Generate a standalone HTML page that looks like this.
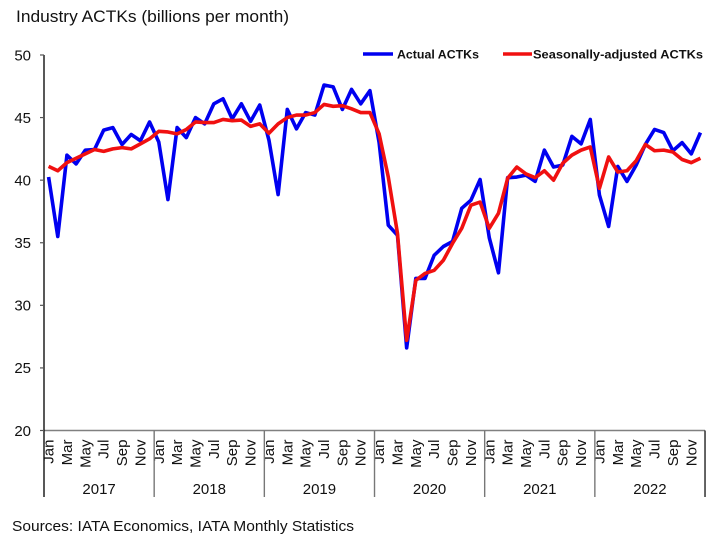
<!DOCTYPE html>
<html>
<head>
<meta charset="utf-8">
<style>
html,body{margin:0;padding:0;background:#fff;}
svg{display:block;font-family:"Liberation Sans",Arial,sans-serif;}
</style>
</head>
<body>
<svg id="c" width="723" height="544" viewBox="0 0 723 544" xmlns="http://www.w3.org/2000/svg">
<rect width="723" height="544" fill="#fff"/>
<text x="16" y="22" font-size="16.5" fill="#111" textLength="273" lengthAdjust="spacingAndGlyphs">Industry ACTKs (billions per month)</text>
<g id="yax" font-size="15" fill="#111" text-anchor="end"></g>
<g id="xax" font-size="15" fill="#111"></g>
<line x1="44" y1="430.5" x2="705" y2="430.5" stroke="#808080" stroke-width="1.6"/>
<line x1="44" y1="55" x2="44" y2="497" stroke="#111" stroke-width="1.4"/>
<polyline id="blue" fill="none" stroke="#0000F0" stroke-width="3.6" stroke-linejoin="round"/>
<polyline id="red" fill="none" stroke="#F01010" stroke-width="3.6" stroke-linejoin="round"/>
<line x1="363" y1="54" x2="393" y2="54" stroke="#0000F0" stroke-width="3.6"/>
<text x="397" y="58.5" font-size="12" font-weight="bold" fill="#111" textLength="82" lengthAdjust="spacingAndGlyphs">Actual ACTKs</text>
<line x1="503" y1="54" x2="532" y2="54" stroke="#F01010" stroke-width="3.6"/>
<text x="533" y="58.5" font-size="12" font-weight="bold" fill="#111" textLength="170" lengthAdjust="spacingAndGlyphs">Seasonally-adjusted ACTKs</text>
<text x="12" y="531" font-size="15" fill="#111" textLength="342" lengthAdjust="spacingAndGlyphs">Sources: IATA Economics, IATA Monthly Statistics</text>
</svg>
<script>
(function(){
var NS="http://www.w3.org/2000/svg";
function Y(v){return 430.5-(v-20)*12.517;}
function X(i){return 44+(i+0.5)*9.181;}
var blue=[40.25,35.5,42.0,41.3,42.4,42.45,44.0,44.2,42.85,43.65,43.15,44.65,
43.05,38.45,44.2,43.4,45.0,44.5,46.1,46.5,44.9,46.1,44.7,46.0,
43.2,38.85,45.65,44.1,45.4,45.2,47.6,47.45,45.65,47.25,46.1,47.15,
43.0,36.4,35.6,26.6,32.15,32.15,34.0,34.7,35.1,37.75,38.4,40.05,
35.4,32.6,40.2,40.25,40.4,39.9,42.4,41.05,41.2,43.5,42.9,44.85,
38.8,36.3,41.1,39.9,41.2,42.85,44.05,43.8,42.35,43.0,42.1,43.8];
var red=[41.1,40.75,41.4,41.75,42.1,42.45,42.3,42.5,42.6,42.5,42.9,43.3,
43.9,43.85,43.7,44.05,44.65,44.6,44.6,44.85,44.75,44.8,44.3,44.5,
43.75,44.5,45.0,45.2,45.2,45.4,46.05,45.9,45.95,45.7,45.4,45.4,
43.7,40.25,35.75,27.2,32.0,32.55,32.8,33.6,34.95,36.15,38.0,38.25,
36.15,37.35,40.15,41.05,40.5,40.2,40.75,40.0,41.35,42.0,42.4,42.65,
39.35,41.85,40.65,40.75,41.55,42.85,42.35,42.4,42.25,41.65,41.4,41.75];
function pts(a){return a.map(function(v,i){return X(i).toFixed(2)+","+Y(v).toFixed(2);}).join(" ");}
document.getElementById("blue").setAttribute("points",pts(blue));
document.getElementById("red").setAttribute("points",pts(red));
var svg=document.getElementById("c");
var yax=document.getElementById("yax");
for(var v=20;v<=50;v+=5){
  var y=Y(v);
  var t=document.createElementNS(NS,"text");
  t.setAttribute("x","31");t.setAttribute("y",(y+5.3).toFixed(2));
  t.textContent=String(v);yax.appendChild(t);
  var l=document.createElementNS(NS,"line");
  l.setAttribute("x1","40");l.setAttribute("x2","44");
  l.setAttribute("y1",y.toFixed(2));l.setAttribute("y2",y.toFixed(2));
  l.setAttribute("stroke","#555");l.setAttribute("stroke-width","1.2");
  svg.appendChild(l);
}
var xax=document.getElementById("xax");
var mn=["Jan","Mar","May","Jul","Sep","Nov"];
for(var yr=0;yr<6;yr++){
  for(var k=0;k<6;k++){
    var i=yr*12+k*2;
    var t=document.createElementNS(NS,"text");
    t.setAttribute("transform","translate("+(X(i)+0.5).toFixed(2)+",439.5) rotate(-90)");
    t.setAttribute("text-anchor","end");
    t.setAttribute("dominant-baseline","central");
    t.textContent=mn[k];xax.appendChild(t);
  }
  var yt=document.createElementNS(NS,"text");
  yt.setAttribute("x",(44+(yr+0.5)*110.17).toFixed(2));
  yt.setAttribute("y","494");
  yt.setAttribute("text-anchor","middle");
  yt.setAttribute("font-size","15");
  yt.textContent=String(2017+yr);xax.appendChild(yt);
}
for(var b=1;b<=6;b++){
  var x=44+b*110.17;
  var l=document.createElementNS(NS,"line");
  l.setAttribute("x1",x.toFixed(2));l.setAttribute("x2",x.toFixed(2));
  l.setAttribute("y1","430.5");l.setAttribute("y2","497");
  l.setAttribute("stroke",b==6?"#222":"#777");l.setAttribute("stroke-width","1.4");
  svg.appendChild(l);
}
})();
</script>
</body>
</html>
